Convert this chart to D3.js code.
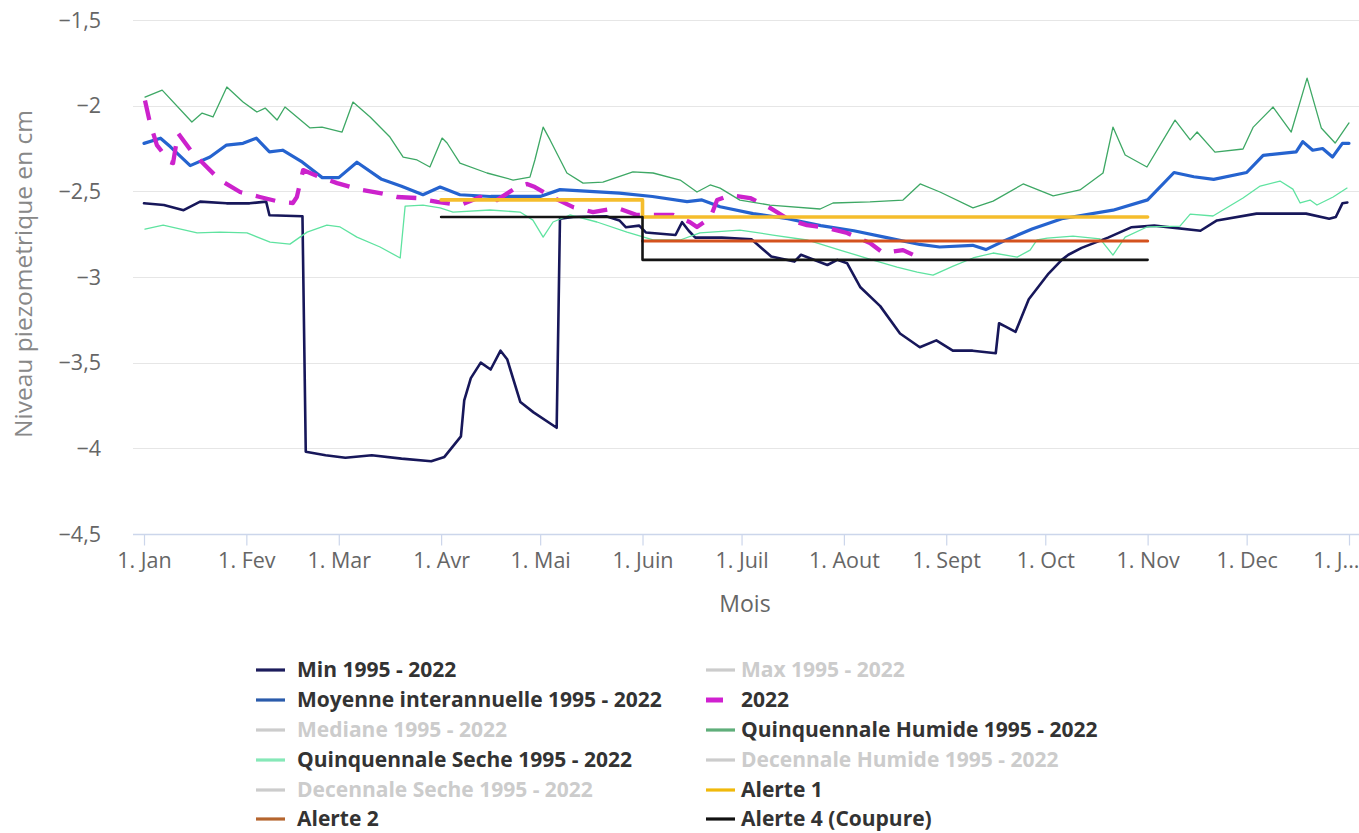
<!DOCTYPE html>
<html><head><meta charset="utf-8">
<script src="https://cdn.jsdelivr.net/npm/d3@7"></script>
<style>
body{margin:0;background:#fff}
svg{display:block}
text{font-family:"Open Sans",sans-serif}
</style>
</head><body>
<svg id="c" width="1359" height="833"></svg>
<script>
// ---------- DATA ----------
const monthDays = [0,31,59,90,120,151,181,212,243,273,304,334,365];
const monthLabels = ["1. Jan","1. Fev","1. Mar","1. Avr","1. Mai","1. Juin","1. Juil","1. Aout","1. Sept","1. Oct","1. Nov","1. Dec","1. J..."];
const yTicks = [-1.5,-2,-2.5,-3,-3.5,-4,-4.5];

// [day of year, level]
const minSerie = [[0,-2.57],[6,-2.58],[12,-2.61],[17,-2.56],[25,-2.57],[32,-2.57],[37,-2.56],[38,-2.64],[48,-2.645],[49,-4.02],[55,-4.04],[61,-4.055],[69,-4.04],[78,-4.06],[87,-4.075],[91,-4.05],[93.5,-3.99],[96,-3.93],[97,-3.72],[99,-3.59],[102,-3.50],[105,-3.54],[108,-3.43],[110,-3.48],[114,-3.73],[118,-3.79],[125,-3.88],[126,-2.66],[130,-2.65],[140,-2.645],[144,-2.67],[146,-2.71],[150,-2.70],[152,-2.74],[161,-2.755],[163,-2.68],[165,-2.73],[167,-2.77],[175,-2.77],[184,-2.78],[190,-2.88],[197,-2.91],[199,-2.87],[207,-2.93],[210,-2.90],[213,-2.92],[217,-3.06],[223,-3.17],[229,-3.33],[235,-3.41],[240,-3.37],[245,-3.43],[251,-3.43],[258,-3.445],[259,-3.27],[261,-3.29],[264,-3.32],[268,-3.13],[274,-2.98],[278,-2.90],[280,-2.87],[284,-2.83],[292,-2.77],[299,-2.71],[306,-2.70],[320,-2.73],[325,-2.67],[337,-2.63],[352,-2.63],[359,-2.66],[361,-2.65],[363,-2.57],[364.5,-2.565]];

const moyenneSerie = [[0,-2.22],[5,-2.19],[8,-2.24],[14,-2.35],[20,-2.30],[25,-2.23],[30,-2.22],[34,-2.19],[38,-2.27],[42,-2.26],[48,-2.33],[54,-2.42],[59,-2.42],[64.5,-2.33],[72,-2.43],[78,-2.47],[84.5,-2.52],[89.7,-2.475],[95.7,-2.52],[105,-2.53],[117,-2.53],[120,-2.53],[126,-2.49],[135,-2.50],[144,-2.51],[154,-2.53],[164.5,-2.56],[169,-2.55],[174.5,-2.59],[184.5,-2.63],[195,-2.66],[205,-2.70],[215,-2.73],[225,-2.77],[235,-2.81],[241,-2.825],[251,-2.815],[255,-2.84],[261,-2.785],[269,-2.72],[278,-2.66],[293.5,-2.61],[304,-2.55],[312,-2.39],[318,-2.415],[324,-2.43],[334,-2.39],[339,-2.29],[349,-2.27],[351,-2.21],[354,-2.26],[357,-2.25],[360,-2.30],[363,-2.22],[365,-2.22]];

const annee2022 = [[0.3,-1.97],[1.8,-2.10],[3.9,-2.23],[7.9,-2.33],[8.8,-2.335],[10.3,-2.16],[14.5,-2.27],[19.1,-2.36],[23,-2.434],[29.1,-2.504],[35.1,-2.533],[41.2,-2.562],[45.1,-2.568],[46.3,-2.533],[48.2,-2.376],[50.3,-2.393],[53.9,-2.422],[58.5,-2.452],[65.4,-2.49],[71.5,-2.51],[76.6,-2.533],[82.7,-2.539],[88.8,-2.562],[95.7,-2.58],[101.8,-2.533],[106.9,-2.551],[113,-2.475],[116,-2.457],[118.4,-2.475],[123.6,-2.533],[130,-2.592],[136,-2.621],[143.3,-2.597],[149.3,-2.638],[155.4,-2.638],[160.3,-2.638],[165.4,-2.68],[167.5,-2.708],[171.5,-2.656],[173.6,-2.551],[177.5,-2.522],[183.6,-2.539],[189.6,-2.597],[195.7,-2.668],[200.8,-2.697],[206.9,-2.714],[213,-2.743],[219.9,-2.802],[223.9,-2.86],[229.9,-2.843],[235.1,-2.889]];

const quinqHumide = [[0.3,-1.95],[5.5,-1.909],[14.5,-2.095],[17.6,-2.043],[20.9,-2.066],[25.1,-1.891],[30,-1.979],[34.2,-2.037],[36.7,-2.014],[40.3,-2.084],[42.7,-2.008],[50.3,-2.13],[53.9,-2.125],[60,-2.154],[63.3,-1.979],[68.5,-2.066],[74.5,-2.183],[78.5,-2.30],[82.7,-2.317],[86.6,-2.358],[90.3,-2.189],[91.8,-2.218],[95.7,-2.335],[103.9,-2.393],[111.8,-2.434],[116.9,-2.417],[118.4,-2.317],[120.9,-2.125],[123,-2.20],[128.1,-2.393],[133,-2.452],[139,-2.446],[148.1,-2.387],[154.2,-2.393],[162.4,-2.434],[167.5,-2.504],[171.5,-2.463],[174.5,-2.481],[180.5,-2.551],[189.6,-2.58],[204.8,-2.603],[208.7,-2.568],[219.9,-2.562],[229.9,-2.551],[235.1,-2.457],[241.1,-2.504],[251.1,-2.597],[257.2,-2.557],[266.3,-2.457],[275.4,-2.527],[283.5,-2.492],[290.5,-2.393],[293.5,-2.125],[297.2,-2.288],[303.8,-2.358],[312.3,-2.084],[316.9,-2.20],[319,-2.154],[324.4,-2.271],[332.9,-2.253],[336,-2.125],[342,-2.008],[347.5,-2.154],[352.3,-1.839],[356.6,-2.13],[360.8,-2.218],[365,-2.101]];

const quinqSeche = [[0.3,-2.72],[5.8,-2.697],[16.1,-2.743],[23,-2.738],[31.2,-2.743],[38.2,-2.796],[44.2,-2.808],[49.4,-2.738],[55.4,-2.697],[59.4,-2.708],[64.5,-2.767],[71.5,-2.825],[77.6,-2.889],[79.1,-2.586],[84.5,-2.58],[89.7,-2.597],[93.6,-2.621],[104.8,-2.609],[113.9,-2.621],[117.8,-2.668],[120.9,-2.767],[123.9,-2.679],[129,-2.638],[137.2,-2.679],[146.3,-2.738],[154.2,-2.784],[162.4,-2.784],[168.4,-2.743],[180.5,-2.726],[190.5,-2.755],[200.8,-2.784],[210.8,-2.843],[220.8,-2.901],[228.1,-2.942],[234.2,-2.971],[239,-2.989],[245.1,-2.936],[251.1,-2.889],[257.2,-2.86],[264.5,-2.884],[268.4,-2.843],[270.5,-2.784],[273.6,-2.773],[281.4,-2.761],[289.6,-2.778],[293.5,-2.872],[297.2,-2.767],[303.8,-2.708],[313.8,-2.703],[316.9,-2.633],[323.8,-2.644],[332.9,-2.539],[338.1,-2.469],[344.1,-2.44],[348,-2.487],[350.2,-2.568],[353.2,-2.551],[355.3,-2.58],[360.2,-2.533],[364.4,-2.481]];

const alerte1 = [[90,-2.55],[151,-2.65],[304,-2.65]];
const alerte2 = [[151,-2.79],[304,-2.79]];
const alerte4 = [[90,-2.65],[151,-2.90],[304,-2.90]];

const legendNames = ["Min 1995 - 2022","Max 1995 - 2022","Moyenne interannuelle 1995 - 2022","2022","Mediane 1995 - 2022","Quinquennale Humide 1995 - 2022","Quinquennale Seche 1995 - 2022","Decennale Humide 1995 - 2022","Decennale Seche 1995 - 2022","Alerte 1","Alerte 2","Alerte 4 (Coupure)"];
const legendHidden = [false,true,false,false,true,false,false,true,true,false,false,false];

// ---------- STYLES ----------
const seriesStyle = [
  {data:minSerie, color:"#17175a", width:2.6},
  {data:moyenneSerie, color:"#2563cf", width:3.2},
  {data:annee2022, color:"#cc22cc", width:4.3, dash:"20,14"},
  {data:quinqHumide, color:"#3ea865", width:1.3},
  {data:quinqSeche, color:"#5fe3a0", width:1.3},
  {data:alerte1, color:"#f5bd2c", width:3.6, step:true},
  {data:alerte2, color:"#d4521e", width:3.2, step:true},
  {data:alerte4, color:"#141414", width:2.6, step:true}
];
const legendColors = ["#1c1c5c","#cccccc","#2a5bab","#d020d0","#cccccc","#5fae7a","#86e8b8","#cccccc","#cccccc","#f0b90b","#b5652e","#111111"];

// ---------- CHART ----------
const svg = d3.select("#c");
const plot = {left:133, right:1359, top:20, bottom:534};
const x = d3.scaleLinear().domain([0,365]).range([144,1349]);
const y = d3.scaleLinear().domain([-4.5,-1.5]).range([plot.bottom, plot.top]);
const fmt = d3.formatLocale({decimal:",", thousands:" ", grouping:[3], currency:["","€"], minus:"\u2212"}).format("");

svg.append("rect").attr("width",1359).attr("height",833).attr("fill","#fff");

// grid
svg.append("g").selectAll("line").data(yTicks).join("line")
  .attr("x1",plot.left).attr("x2",plot.right)
  .attr("y1",d=>Math.round(y(d))+0.5).attr("y2",d=>Math.round(y(d))+0.5)
  .attr("stroke","#e6e6e6").attr("stroke-width",1.2);

// y labels
svg.append("g").selectAll("text").data(yTicks).join("text")
  .attr("x",101).attr("y",d=>y(d)).attr("dy","0.35em")
  .attr("text-anchor","end").attr("fill","#666").style("font-size","21.5px")
  .text(d=>fmt(d));

// x axis
const xAxis = d3.axisBottom(x).tickValues(monthDays).tickSize(11).tickFormat((d,i)=>monthLabels[i]);
const gx = svg.append("g").attr("transform",`translate(0,${plot.bottom+0.5})`).call(xAxis);
gx.select(".domain").remove();
gx.append("line").attr("x1",plot.left).attr("x2",plot.right).attr("stroke","#ccd6eb").attr("stroke-width",1.5);
gx.selectAll(".tick line").attr("stroke","#ccd6eb").attr("stroke-width",1.2);
gx.selectAll(".tick text").attr("fill","#666").style("font-size","21.5px")
  .style("font-family","'Open Sans',sans-serif").attr("y",18).attr("dy","0.71em");
gx.selectAll(".tick").filter((d,i)=>i===monthDays.length-1).select("text")
  .attr("text-anchor","end").attr("x",10);

// titles
svg.append("text").attr("x",745).attr("y",604).attr("dy","0.35em").attr("text-anchor","middle")
  .attr("fill","#666").style("font-size","23px").text("Mois");
svg.append("text").attr("transform","translate(23,274) rotate(-90)").attr("dy","0.35em")
  .attr("text-anchor","middle").attr("fill","#888").style("font-size","24.5px")
  .text("Niveau piezometrique en cm");

// series
svg.append("clipPath").attr("id","clip").append("rect")
  .attr("x",plot.left).attr("y",plot.top-10).attr("width",plot.right-plot.left).attr("height",plot.bottom-plot.top+10);
const gs = svg.append("g").attr("clip-path","url(#clip)");
seriesStyle.forEach(s=>{
  const line = d3.line().x(d=>x(d[0])).y(d=>y(d[1])).curve(s.step?d3.curveStepAfter:d3.curveLinear);
  gs.append("path").datum(s.data).attr("d",line)
    .attr("fill","none").attr("stroke",s.color).attr("stroke-width",s.width)
    .attr("stroke-linejoin","round").attr("stroke-linecap",s.dash?"butt":"round")
    .attr("stroke-dasharray",s.dash||null);
});

// legend
const colSym = [256,706], colText = [297,741], rowY = [670,700,730,760,790,819];
const lg = svg.append("g");
legendNames.forEach((name,i)=>{
  const c = i%2, r = Math.floor(i/2);
  const yy = rowY[r];
  lg.append("line").attr("x1",colSym[c]).attr("x2",colSym[c]+29).attr("y1",yy).attr("y2",yy)
    .attr("stroke",legendColors[i]).attr("stroke-width",name==="2022"?5:3.2)
    .attr("stroke-dasharray",name==="2022"?"17,20":null);
  lg.append("text").attr("x",colText[c]).attr("y",yy).attr("dy","0.35em")
    .attr("fill",legendHidden[i]?"#cccccc":"#333").style("font-size","21px").style("font-weight","700")
    .text(name);
});
</script>
</body></html>
